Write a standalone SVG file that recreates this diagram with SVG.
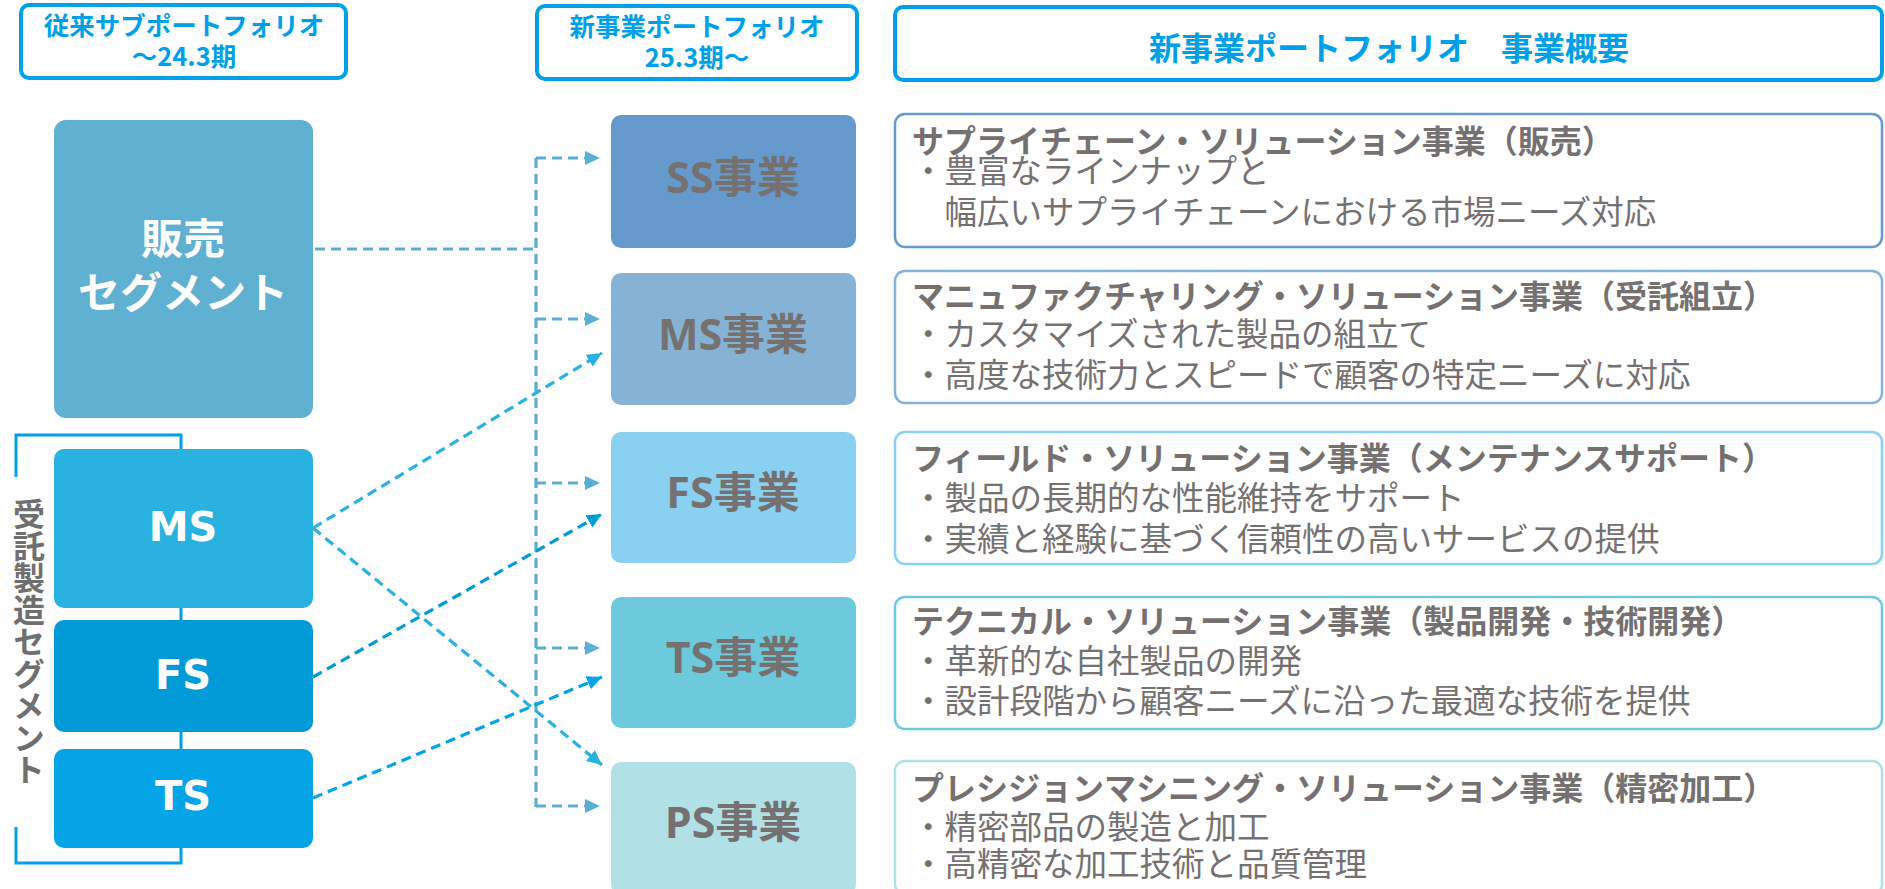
<svg xmlns="http://www.w3.org/2000/svg" width="1885" height="889" viewBox="0 0 1885 889">
<style>
.hdr{fill:#fff;stroke:#00a0e9;stroke-width:4}
.hdrt{font-family:"Noto Sans CJK JP",sans-serif;font-weight:700;fill:#00a0e9;text-anchor:middle}
.lt{font-family:"DejaVu Sans","Noto Sans CJK JP",sans-serif;font-weight:700;fill:#fff;text-anchor:middle}
.mt{font-family:"Open Sans","Noto Sans CJK JP",sans-serif;font-weight:700;fill:#757171;text-anchor:middle;font-size:43px}
.desc{fill:#fff;stroke-width:2.5}
.dt{font-family:"Noto Sans CJK JP",sans-serif;font-size:32.5px;fill:#757171}
.dt .b{font-weight:700;font-size:32px}
.c{fill:none;stroke-width:3.2;stroke-dasharray:10 6}
</style>
<defs>
<marker id="aS" markerUnits="userSpaceOnUse" markerWidth="16" markerHeight="14" refX="15" refY="7" orient="auto"><path d="M0,0 L15,7 L0,14 z" fill="#5bafd4"/></marker>
<marker id="aM" markerUnits="userSpaceOnUse" markerWidth="16" markerHeight="14" refX="15" refY="7" orient="auto"><path d="M0,0 L15,7 L0,14 z" fill="#29b2df"/></marker>
<marker id="aF" markerUnits="userSpaceOnUse" markerWidth="16" markerHeight="14" refX="15" refY="7" orient="auto"><path d="M0,0 L15,7 L0,14 z" fill="#039bd7"/></marker>
<marker id="aT" markerUnits="userSpaceOnUse" markerWidth="16" markerHeight="14" refX="15" refY="7" orient="auto"><path d="M0,0 L15,7 L0,14 z" fill="#04a4e6"/></marker>
</defs>
<rect width="1885" height="889" fill="#fff"/>

<g id="header-old">
<rect class="hdr" x="21" y="5" width="325" height="73" rx="8"/>
<text class="hdrt" x="184" y="35" font-size="25.5">従来サブポートフォリオ</text>
<text class="hdrt" x="184" y="66" font-size="25.5">～24.3期</text>
</g>
<g id="header-new">
<rect class="hdr" x="537" y="6" width="320" height="73" rx="8"/>
<text class="hdrt" x="697" y="36" font-size="25.5">新事業ポートフォリオ</text>
<text class="hdrt" x="697" y="67" font-size="25.5">25.3期～</text>
</g>
<g id="header-summary">
<rect class="hdr" x="895" y="7" width="987" height="73" rx="8"/>
<text class="hdrt" x="1389" y="60" font-size="32">新事業ポートフォリオ　事業概要</text>
</g>

<g id="bracket">
<path d="M16,477 V435 H181 V863 H16 V827" fill="none" stroke="#00a0e9" stroke-width="3"/>
<text x="29" y="642" font-family="Noto Sans CJK JP,sans-serif" font-weight="700" font-size="32" fill="#6f6f6f" text-anchor="middle" style="writing-mode:vertical-rl;text-orientation:upright">受託製造セグメント</text>
</g>

<g id="seg-sales">
<rect x="54" y="120" width="259" height="298" rx="12" fill="#5fb0d1"/>
<text class="lt" x="183" y="254" font-size="42">販売</text>
<text class="lt" x="183" y="308" font-size="42">セグメント</text>
</g>
<g id="seg-ms">
<rect x="54" y="449" width="259" height="159" rx="10" fill="#29b2df"/>
<text class="lt" x="183" y="541" font-size="40">MS</text>
</g>
<g id="seg-fs">
<rect x="54" y="620" width="259" height="112" rx="10" fill="#039bd7"/>
<text class="lt" x="183" y="689" font-size="40">FS</text>
</g>
<g id="seg-ts">
<rect x="54" y="749" width="259" height="99" rx="10" fill="#04a4e6"/>
<text class="lt" x="183" y="810" font-size="40">TS</text>
</g>

<g id="biz-ss">
<rect x="611" y="115" width="245" height="133" rx="10" fill="#6699cc"/>
<text class="mt" x="733" y="193">SS事業</text>
</g>
<g id="biz-ms">
<rect x="611" y="273" width="245" height="132" rx="10" fill="#86b3d5"/>
<text class="mt" x="733" y="350">MS事業</text>
</g>
<g id="biz-fs">
<rect x="611" y="432" width="245" height="131" rx="10" fill="#8ad0f0"/>
<text class="mt" x="733" y="508">FS事業</text>
</g>
<g id="biz-ts">
<rect x="611" y="597" width="245" height="131" rx="10" fill="#6dcadc"/>
<text class="mt" x="733" y="673">TS事業</text>
</g>
<g id="biz-ps">
<rect x="611" y="762" width="245" height="132" rx="10" fill="#b1e0e6"/>
<text class="mt" x="733" y="838">PS事業</text>
</g>

<g id="desc-ss">
<rect class="desc" x="895" y="114" width="987" height="133" rx="10" stroke="#6699cc"/>
<text class="dt" x="912" y="153"><tspan class="b">サプライチェーン・ソリューション事業（販売）</tspan><tspan x="912" y="183">・豊富なラインナップと</tspan><tspan x="912" y="224">　幅広いサプライチェーンにおける市場ニーズ対応</tspan></text>
</g>
<g id="desc-ms">
<rect class="desc" x="895" y="271" width="987" height="132" rx="10" stroke="#86b3d5"/>
<text class="dt" x="912" y="308"><tspan class="b">マニュファクチャリング・ソリューション事業（受託組立）</tspan><tspan x="912" y="346">・カスタマイズされた製品の組立て</tspan><tspan x="912" y="387">・高度な技術力とスピードで顧客の特定ニーズに対応</tspan></text>
</g>
<g id="desc-fs">
<rect class="desc" x="895" y="432" width="987" height="132" rx="10" stroke="#8ad0f0"/>
<text class="dt" x="912" y="470"><tspan class="b">フィールド・ソリューション事業（メンテナンスサポート）</tspan><tspan x="912" y="510">・製品の長期的な性能維持をサポート</tspan><tspan x="912" y="551">・実績と経験に基づく信頼性の高いサービスの提供</tspan></text>
</g>
<g id="desc-ts">
<rect class="desc" x="895" y="597" width="987" height="132" rx="10" stroke="#6dcadc"/>
<text class="dt" x="912" y="633"><tspan class="b">テクニカル・ソリューション事業（製品開発・技術開発）</tspan><tspan x="912" y="673">・革新的な自社製品の開発</tspan><tspan x="912" y="713">・設計段階から顧客ニーズに沿った最適な技術を提供</tspan></text>
</g>
<g id="desc-ps">
<rect class="desc" x="895" y="761" width="987" height="133" rx="10" stroke="#b1e0e6"/>
<text class="dt" x="912" y="800"><tspan class="b">プレシジョンマシニング・ソリューション事業（精密加工）</tspan><tspan x="912" y="839">・精密部品の製造と加工</tspan><tspan x="912" y="876">・高精密な加工技術と品質管理</tspan></text>
</g>

<g id="connectors">
<path class="c" stroke="#5bafd4" d="M315,249 H536"/>
<path class="c" stroke="#5bafd4" d="M536,158 V807"/>
<path class="c" stroke="#5bafd4" d="M536,158 H600" marker-end="url(#aS)"/>
<path class="c" stroke="#5bafd4" d="M536,319 H600" marker-end="url(#aS)"/>
<path class="c" stroke="#5bafd4" d="M536,483 H600" marker-end="url(#aS)"/>
<path class="c" stroke="#5bafd4" d="M536,648 H600" marker-end="url(#aS)"/>
<path class="c" stroke="#5bafd4" d="M536,806 H600" marker-end="url(#aS)"/>
<path class="c" stroke="#29b2df" d="M313,528 L602,353" marker-end="url(#aM)"/>
<path class="c" stroke="#29b2df" d="M313,528 L602,765" marker-end="url(#aM)"/>
<path class="c" stroke="#039bd7" d="M313,677 L602,514" marker-end="url(#aF)"/>
<path class="c" stroke="#04a4e6" d="M313,798 L602,677" marker-end="url(#aT)"/>
</g>
</svg>
